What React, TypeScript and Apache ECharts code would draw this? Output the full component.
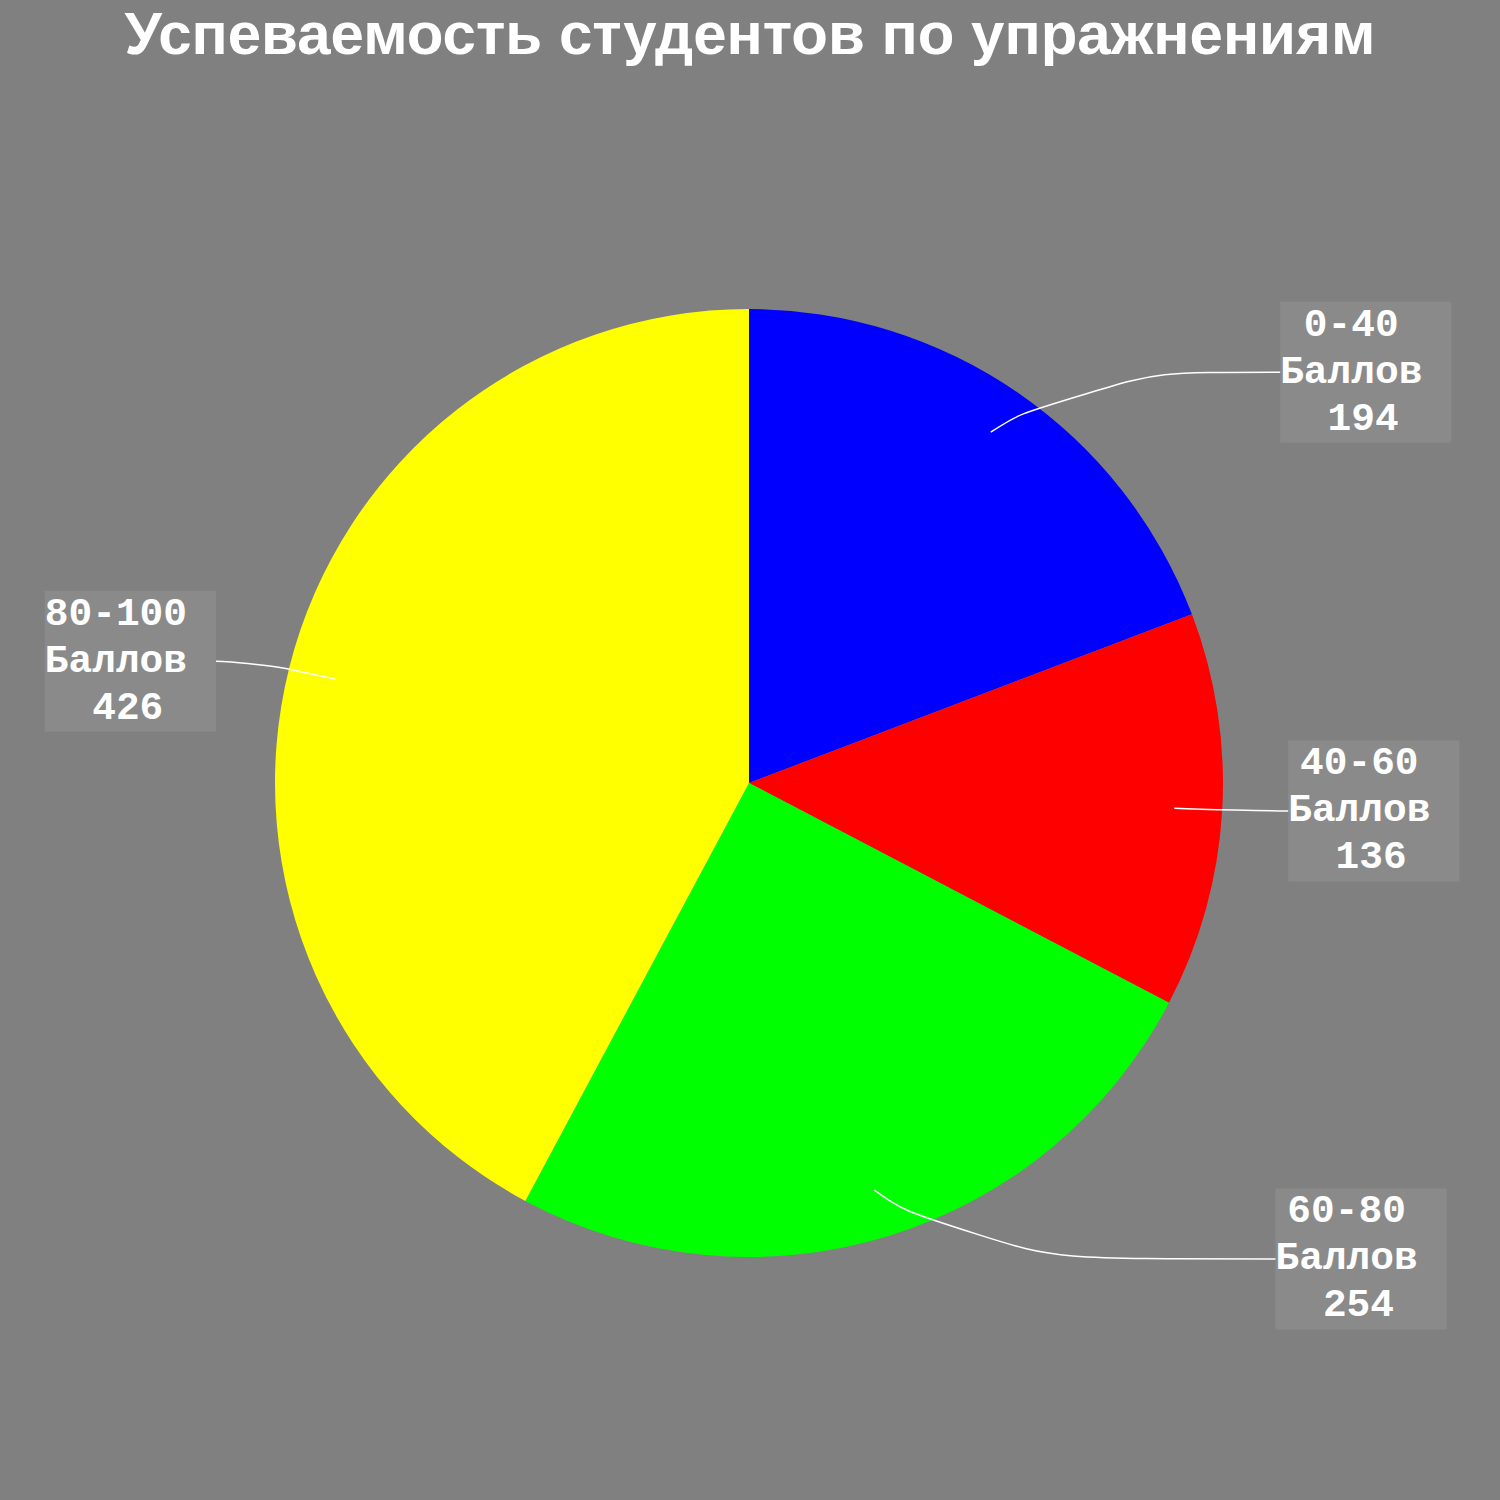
import React, { useEffect, useRef } from "react";
import * as echarts from "echarts";

const categories = ["0-40", "40-60", "60-80", "80-100"];
const values = [194, 136, 254, 426];
const colors = ["#0000ff", "#ff0000", "#00ff00", "#ffff00"];
const unitLabel = "Баллов";
const titleText = "Успеваемость студентов по упражнениям";
// label-line geometry per slice (first segment, second segment)
const lineLen1 = [73, 47, 72, 74];
const lineLen2 = [248, 67, 380, 48];

export default function App() {
  const ref = useRef<HTMLDivElement>(null);
  useEffect(() => {
    document.body.style.margin = "0";
    const chart = echarts.init(ref.current!, undefined, { renderer: "svg" });
    const baseData = categories.map((c, i) => ({
      name: c,
      value: values[i],
      itemStyle: { color: colors[i] },
    }));
    const labelData = categories.map((c, i) => ({
      name: c,
      value: values[i],
      labelLine: { length: lineLen1[i], length2: lineLen2[i] },
    }));
    chart.setOption({
      animation: false,
      backgroundColor: "#808080",
      title: {
        text: titleText,
        left: "center",
        top: 3,
        padding: 0,
        textStyle: {
          color: "#ffffff",
          fontSize: 60,
          fontWeight: "bold",
          fontFamily: "'Liberation Sans', Arial, sans-serif",
        },
      },
      series: [
        {
          type: "pie",
          z: 1,
          center: [749, 783],
          radius: 474,
          startAngle: 90,
          clockwise: true,
          silent: true,
          label: { show: false },
          labelLine: { show: false },
          itemStyle: { borderWidth: 0 },
          data: baseData,
        },
        {
          type: "pie",
          z: 5,
          center: [749, 783],
          radius: 426,
          startAngle: 90,
          clockwise: true,
          silent: true,
          itemStyle: { color: "rgba(0,0,0,0)", borderWidth: 0 },
          avoidLabelOverlap: false,
          label: {
            show: true,
            position: "outside",
            distanceToLabelLine: 0,
            formatter: "{a|{b}}\n{a|" + unitLabel + "}\n{a| {c}}",
            backgroundColor: "rgba(255,255,255,0.08)",
            padding: [0, 29, 0, 0],
            rich: {
              a: {
                align: "center",
                color: "#ffffff",
                fontSize: 39.5,
                lineHeight: 47,
                fontWeight: "bold",
                fontFamily: "'Liberation Mono', 'Courier New', monospace",
              },
            },
          },
          labelLine: {
            show: true,
            smooth: 0.7,
            lineStyle: { color: "#ffffff", width: 1.5 },
          },
          labelLayout: (params: any) => {
            const pts = params.labelLinePoints;
            if (!pts || pts.length < 3) return {};
            const k = 0.2;
            const p1 = [
              pts[1][0] + (pts[2][0] - pts[1][0]) * k,
              pts[1][1] + (pts[2][1] - pts[1][1]) * k,
            ];
            return { labelLinePoints: [pts[0].slice(), p1, pts[2].slice()] };
          },
          data: labelData,
        },
      ],
    });
    return () => chart.dispose();
  }, []);
  return (
    <div
      ref={ref}
      style={{ position: "absolute", left: 0, top: 0, width: 1500, height: 1500 }}
    />
  );
}
